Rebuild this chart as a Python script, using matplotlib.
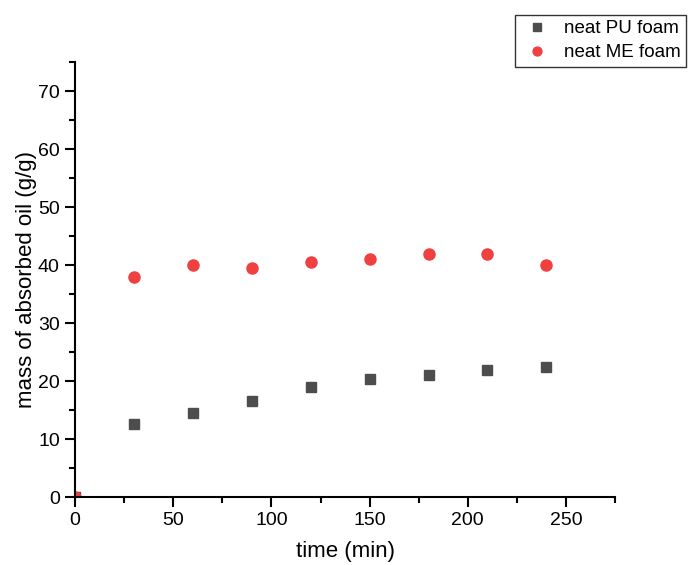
import matplotlib
matplotlib.use('Agg')
import matplotlib.pyplot as plt
from matplotlib.ticker import MultipleLocator

plt.rcParams['font.family'] = ['Liberation Sans', 'DejaVu Sans']

tiempo = [0, 30, 60, 90, 120, 150, 180, 210, 240]
pu = [0, 12.7, 14.6, 16.6, 19.0, 20.3, 21.1, 21.9, 22.5]
me = [0, 38.0, 40.0, 39.5, 40.5, 41.0, 42.0, 42.0, 40.0]

fig = plt.figure(figsize=(6.95, 5.65), dpi=100)
ax = fig.add_axes([0.108, 0.120, 0.777, 0.770])

ax.plot(tiempo, pu, 's', color='#4d4d4d', markersize=7.5, label='neat PU foam')
ax.plot(tiempo, me, 'o', color='#f04040', markersize=8, label='neat ME foam')

ax.set_xlim(0, 275)
ax.set_ylim(0, 75)
ax.xaxis.set_major_locator(MultipleLocator(50))
ax.xaxis.set_minor_locator(MultipleLocator(25))
ax.yaxis.set_major_locator(MultipleLocator(10))
ax.yaxis.set_minor_locator(MultipleLocator(5))
ax.spines['top'].set_visible(False)
ax.spines['right'].set_visible(False)
for s in ['left', 'bottom']:
    ax.spines[s].set_linewidth(1.5)
ax.tick_params(which='major', direction='out', length=7, width=1.5, labelsize=14, pad=4)
ax.tick_params(which='minor', direction='out', length=4, width=1.5)

ax.set_xlabel('time (min)', fontsize=16, labelpad=8)
ax.set_ylabel('mass of absorbed oil (g/g)', fontsize=16, labelpad=1)

leg = fig.legend(loc='upper left', bbox_to_anchor=(0.741, 0.974), fontsize=13.5,
                 frameon=True, fancybox=False, edgecolor='black', handletextpad=0.5,
                 handlelength=1.8, borderaxespad=0, labelspacing=0.35, markerscale=0.8,
                 borderpad=0.3)
leg.get_frame().set_linewidth(1.0)

plt.savefig('out.png', dpi=100)
